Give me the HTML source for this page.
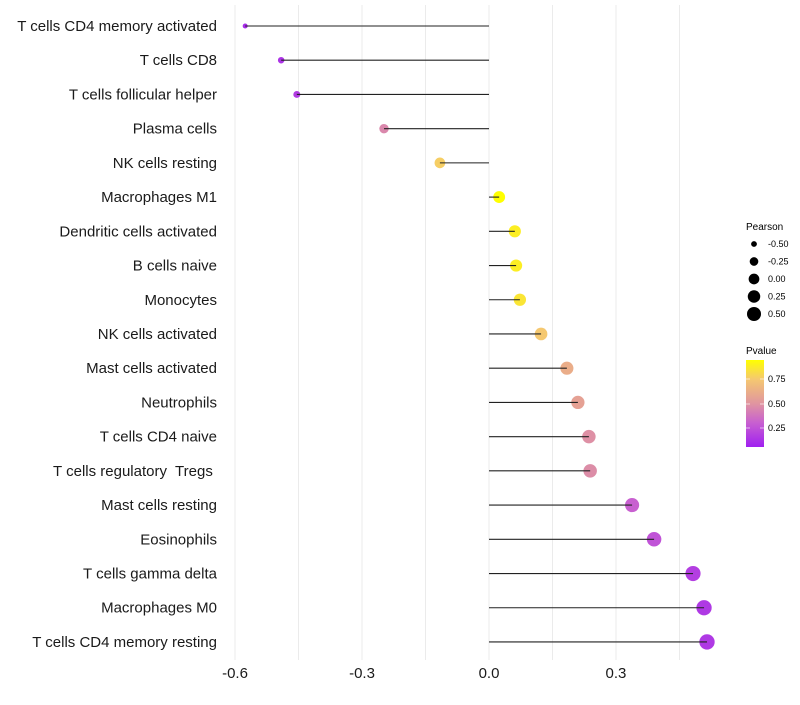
<!DOCTYPE html>
<html><head><meta charset="utf-8"><style>
body{margin:0;background:#fff;font-family:"Liberation Sans",sans-serif}
</style></head><body>
<svg id="chart" width="800" height="700" xmlns="http://www.w3.org/2000/svg" font-family="Liberation Sans, sans-serif">
<defs><linearGradient id="pg" x1="0" y1="1" x2="0" y2="0">
<stop offset="0" stop-color="#a020f0"/><stop offset="0.28" stop-color="#c860d0"/><stop offset="0.5" stop-color="#e095a0"/><stop offset="0.78" stop-color="#f5c870"/><stop offset="1" stop-color="#ffff00"/>
</linearGradient></defs>
<g id="grid"></g>
<g id="marks"></g>
<g id="ylabels"></g>
<g id="xlabels"></g>
<g id="sizeLeg">
<text x="746" y="230" font-size="10">Pearson</text>
</g>
<g>
<text x="746" y="354" font-size="10">Pvalue</text>
<rect x="746" y="360" width="18" height="87" fill="url(#pg)"/>
<line x1="746" y1="379" x2="750" y2="379" stroke="#fff" stroke-opacity="0.6"/><line x1="760" y1="379" x2="764" y2="379" stroke="#fff" stroke-opacity="0.6"/>
<line x1="746" y1="404" x2="750" y2="404" stroke="#fff" stroke-opacity="0.6"/><line x1="760" y1="404" x2="764" y2="404" stroke="#fff" stroke-opacity="0.6"/>
<line x1="746" y1="428" x2="750" y2="428" stroke="#fff" stroke-opacity="0.6"/><line x1="760" y1="428" x2="764" y2="428" stroke="#fff" stroke-opacity="0.6"/>
<text x="768" y="382" font-size="9">0.75</text>
<text x="768" y="407" font-size="9">0.50</text>
<text x="768" y="431" font-size="9">0.25</text>
</g>
</svg>
<script>
const categories=["T cells CD4 memory activated","T cells CD8","T cells follicular helper","Plasma cells","NK cells resting","Macrophages M1","Dendritic cells activated","B cells naive","Monocytes","NK cells activated","Mast cells activated","Neutrophils","T cells CD4 naive","T cells regulatory  Tregs ","Mast cells resting","Eosinophils","T cells gamma delta","Macrophages M0","T cells CD4 memory resting"];
const pearson=[-0.576,-0.491,-0.454,-0.248,-0.116,0.024,0.061,0.064,0.073,0.123,0.184,0.210,0.236,0.239,0.338,0.390,0.482,0.508,0.515];
const pvalue=[0.1,0.13,0.16,0.45,0.77,0.95,0.88,0.88,0.85,0.75,0.62,0.56,0.48,0.47,0.3,0.25,0.17,0.15,0.15];
const xTicks=[-0.6,-0.3,0.0,0.3];
const xTickLabels=["-0.6","-0.3","0.0","0.3"];
const sizeLegendVals=[-0.5,-0.25,0,0.25,0.5];
const sizeLegendLabels=["-0.50","-0.25","0.00","0.25","0.50"];
const NS="http://www.w3.org/2000/svg";
const x=v=>489+v*423.3;
const y=i=>26+i*34.22;
const r=v=>Math.sqrt(Math.max(2,34+48*v));
const stops=[[0.056,[160,32,240]],[0.3,[200,96,208]],[0.5,[224,149,160]],[0.75,[245,200,112]],[0.94,[255,255,0]]];
function col(p){p=Math.max(0.056,Math.min(0.94,p));
for(let k=0;k<stops.length-1;k++){const [a,ca]=stops[k],[b,cb]=stops[k+1];
if(p<=b){const t=(p-a)/(b-a);return `rgb(${ca.map((c,j)=>Math.round(c+(cb[j]-c)*t))})`;}}
return 'rgb(255,255,0)';}
function mk(tag,at,parent){const e=document.createElementNS(NS,tag);for(const k in at)e.setAttribute(k,at[k]);parent.appendChild(e);return e;}
const grid=document.getElementById('grid');
[-0.6,-0.45,-0.3,-0.15,0,0.15,0.3,0.45].forEach(v=>{
const l=mk('line',{x1:x(v),x2:x(v),y1:5,y2:660,stroke:'#ebebeb','stroke-width':1},grid);

});
const marks=document.getElementById('marks'),yl=document.getElementById('ylabels'),xl=document.getElementById('xlabels');
categories.forEach((c,i)=>{
const ci=mk('circle',{cx:x(pearson[i]),cy:y(i),r:r(pearson[i]),fill:col(pvalue[i])},marks);


const s=mk('line',{x1:x(0),x2:x(pearson[i]),y1:y(i),y2:y(i),stroke:'#222','stroke-width':1.1},marks);


const t=mk('text',{x:217,y:y(i)+5,'text-anchor':'end','font-size':15,fill:'#1a1a1a'},yl);
t.textContent=c;


t.style.whiteSpace='pre';
});
xTicks.forEach((v,i)=>{
const t=mk('text',{x:x(v),y:678,'text-anchor':'middle','font-size':15,fill:'#1a1a1a'},xl);
t.textContent=xTickLabels[i];

});
const sl=document.getElementById('sizeLeg');
sizeLegendVals.forEach((v,i)=>{
const cy=244+i*17.5;
const c=mk('circle',{cx:754,cy:cy,r:r(v)*0.92,fill:'#000'},sl);


const t=mk('text',{x:768,y:cy+3,'font-size':9},sl);
t.textContent=sizeLegendLabels[i];

});
</script>
</body></html>
